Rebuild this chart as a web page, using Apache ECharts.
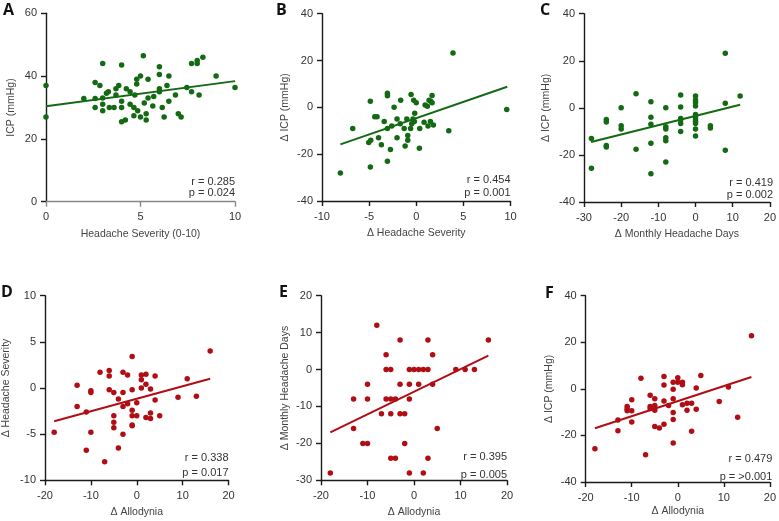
<!DOCTYPE html>
<html>
<head>
<meta charset="utf-8">
<script src="https://cdn.jsdelivr.net/npm/echarts@6/dist/echarts.min.js"></script>
<style>
  html, body { margin: 0; padding: 0; background: #fff; }
  #main { width: 779px; height: 521px; }
</style>
</head>
<body>
<div id="main"></div>
<script>
// A: headache severity vs ICP
var aX = [0, 0, 2, 2.6, 2.6, 2.6, 2.85, 3, 3, 3, 3, 3.2, 3.3, 3.35, 3.6, 3.7, 3.7, 3.85, 4, 4, 4, 4, 4.2, 4.25, 4.45, 4.45, 4.65, 4.65, 4.7, 4.8, 4.8, 4.85, 5, 5, 5.15, 5.2, 5.3, 5.3, 5.4, 5.4, 5.7, 5.65, 6, 6, 6, 6, 6.15, 6.25, 6.4, 6.5, 6.5, 6.85, 7, 7.15, 7.45, 7.7, 7.7, 8, 8, 8.1, 8.3, 9, 10];
var aY = [37, 27, 32.9, 38, 32.9, 30, 37, 44, 33, 31, 29, 34.5, 35, 30, 30, 34, 36, 37, 43.5, 32, 30, 25.5, 26, 36, 35, 31, 30, 27.4, 34, 39, 37.5, 29, 40, 27, 46.5, 31.4, 28, 26, 39, 33, 33.5, 30.5, 43, 40.5, 36, 35, 30, 27, 37, 40, 32, 34, 28, 27, 36.4, 44, 35, 45, 44, 34, 46, 40, 36.4];
var aFitX = [0, 10];
var aFitY = [30.4, 38.4];

// B: Δ headache severity vs Δ ICP
var bX = [-8.05, -6.74, -4.87, -4.87, -5.04, -4.83, -4.4, -4.16, -4, -3.7, -3.4, -3.06, -3.06, -3.06, -3.06, -2.74, -2.6, -2.35, -2.04, -2.04, -1.65, -1.7, -1.28, -1.18, -1, -0.9, -0.9, -0.55, -0.6, -0.48, -0.34, -0.27, -0.16, -0.2, 0, 0.33, 0.37, 0.83, 0.94, 1.18, 1.36, 1.25, 1.54, 1.5, 1.68, 1.68, 1.82, 3.45, 3.9, 9.6];
var bY = [-28, -9, 2.6, -25.5, -15, -14.1, -4, -4, -13, -16, -6, 6, 5, -9, -23, -18, -8, 0, -5, -13, 3, -7, -9, -16.5, -5, -12, -14, 5.5, -9, -7, -5, 3, -2.5, -6, 2, -17.5, -9, -6.4, 1, 0.5, 3, -8, 2.6, -6, 5.1, 2, -7.5, -10, 23.2, -0.9];
var bFitX = [-8.05, 9.65];
var bFitY = [-15.8, 8.8];

// C: Δ monthly headache days vs Δ ICP
var cX = [-28, -28, -24, -24, -24, -24, -20, -20, -20, -16, -16, -12, -12, -12, -12, -12, -8, -8, -8, -8, -8, -8, -4, -4, -4, -4, -4, -4, 0, 0, 0, 0, 0, 0, 0, 0, 0, 0, 0, 4, 4, 8, 8, 8, 12];
var cY = [-13, -25.7, -5, -6, -16, -16.6, 0, -7.6, -9, 6, -17.6, 2.6, -4, -7, -15, -28, 0, -8, -9, -12.7, -14, -23, 5.5, 0.4, -4.5, -5.2, -6.6, -10, 5, 3.3, 2.3, 0.8, -2.8, -3.8, -4.7, -5.7, -6.7, -9, -12, -7.6, -8.6, 23.2, 2, -18, 5];
var cFitX = [-28.1, 12];
var cFitY = [-14.5, 1.3];

// D: Δ allodynia vs Δ headache severity
var dX = [-18, -13, -13, -11, -11, -10, -10, -10, -8, -7, -6, -6, -6, -5, -5, -5, -5, -4, -4, -3, -3, -3, -3, -2, -2, -1, -1, -1, -1, -1, -1, 0, 0, 1, 1, 1, 2, 2, 2, 3, 3, 3, 4, 4, 5, 9, 11, 13, 16];
var dY = [-4.8, 0.3, -2, -2.6, -6.75, -0.3, -0.5, -4.8, 1.7, -8, 1.9, 1.3, -0.2, -0.5, -3, -3.7, -4.3, -1.2, -6.5, 1.7, -0.5, -2, -5, 1.4, -1.7, 3.4, -0.2, -2.4, -3, -4, -4.1, -1.6, -3, 1.4, 0.9, 0, 1.5, 0.4, -3.2, -0.1, -2.7, -3.3, 1.3, -1.3, -3, -1, 1, -0.9, 4];
var dFitX = [-18, 16];
var dFitY = [-3.6, 1.0];

// E: Δ allodynia vs Δ monthly headache days
var eX = [-18, -13, -13, -11, -10, -10, -10, -8, -7, -6, -6, -6, -5, -5, -5, -5, -4, -4, -3, -3, -3, -2, -2, -1, -1, -1, -1, 0, 1, 1, 2, 2, 3, 3, 3, 4, 4, 5, 9, 11, 13, 16];
var eY = [-28, -8, -16, -20, -20, -4, -8, 12, -12, 4, 0, -8, 0, -8, -12, -24, -8, -24, 8, -4, -12, -12, -20, -4, -8, 0, -28, 0, 0, -4, 0, -28, 8, 0, -24, 4, -4, -16, 0, 0, 0, 8];
var eFitX = [-18, 16];
var eFitY = [-17, 3.75];

// F: Δ allodynia vs Δ ICP
var fX = [-18, -13, -13, -11, -11, -11, -10, -10, -10, -8, -7, -6, -6, -6, -5, -5, -5, -5, -4, -3, -3, -3, -3, -2, -1, -1, -1, -1, -1, -1, 0, 0, 1, 1, 1, 2, 2, 3, 3, 4, 4, 5, 9, 11, 13, 16];
var fY = [-25.7, -13.4, -18, -7.6, -8.6, -9.4, -4.7, -9.4, -14.2, 4.6, -28.3, -2.8, -7.6, -8.4, -4.2, -7.2, -9.2, -16.2, -16.8, 5.3, 1.6, -5.2, -15.2, -7.2, 2.8, -0.2, -4.2, -10.2, -13.2, -23.2, 4.8, 2.8, 2.8, 1.8, -6.8, -6.2, -9.2, -6.2, -18.2, 0.4, -8.8, 5.7, -5.4, 0.8, -12.2, 22.8];
var fFitX = [-18, 16];
var fFitY = [-16.9, 5.1];

var green = '#136a13';
var red = '#b00e14';

function zip(xs, ys) {
    var out = [];
    for (var i = 0; i < xs.length; i++) out.push([xs[i], ys[i]]);
    return out;
}

// panel layout (pixels)
var panels = [
    {letter: 'A', left: 46, top: 13.3, w: 189, h: 188.4, xMin: 0, xMax: 10, xInt: 5, yMin: 0, yMax: 60, yInt: 20,
        xName: 'Headache Severity (0-10)', yName: 'ICP (mmHg)', xs: aX, ys: aY, fx: aFitX, fy: aFitY, color: green,
        r: 'r = 0.285', p: 'p = 0.024', lx: 3, ly: 2, yGap: 29, xGap: 27, xLine: '#888'},
    {letter: 'B', left: 322, top: 13.7, w: 188.5, h: 187.3, xMin: -10, xMax: 10, xInt: 5, yMin: -40, yMax: 40, yInt: 20,
        xName: 'Δ Headache Severity', yName: 'Δ ICP (mmHg)', xs: bX, ys: bY, fx: bFitX, fy: bFitY, color: green,
        r: 'r = 0.454', p: 'p = 0.001', lx: 276, ly: 2, yGap: 31, xGap: 27},
    {letter: 'C', left: 584, top: 13.7, w: 189, h: 188.3, xMin: -30, xMax: 20, xInt: 10, yMin: -40, yMax: 40, yInt: 20,
        xName: 'Δ Monthly Headache Days', yName: 'Δ ICP (mmHg)', xs: cX, ys: cY, fx: cFitX, fy: cFitY, color: green,
        r: 'r = 0.419', p: 'p = 0.002', lx: 540, ly: 2, yGap: 32, xGap: 27},
    {letter: 'D', left: 43, top: 295.7, w: 185.5, h: 184.6, xMin: -20, xMax: 20, xInt: 10, yMin: -10, yMax: 10, yInt: 5,
        xName: 'Δ Allodynia', yName: 'Δ Headache Severity', xs: dX, ys: dY, fx: dFitX, fy: dFitY, color: red,
        r: 'r = 0.338', p: 'p = 0.017', lx: 1, ly: 284, yGap: 33, xGap: 26},
    {letter: 'E', left: 321, top: 295.7, w: 186, h: 184.6, xMin: -20, xMax: 20, xInt: 10, yMin: -30, yMax: 20, yInt: 10,
        xName: 'Δ Allodynia', yName: 'Δ Monthly Headache Days', xs: eX, ys: eY, fx: eFitX, fy: eFitY, color: red,
        r: 'r = 0.395', p: 'p = 0.005', lx: 279, ly: 284, yGap: 30, xGap: 26},
    {letter: 'F', left: 585.7, top: 295.7, w: 186.6, h: 186.3, xMin: -20, xMax: 20, xInt: 10, yMin: -40, yMax: 40, yInt: 20,
        xName: 'Δ Allodynia', yName: 'Δ ICP (mmHg)', xs: fX, ys: fY, fx: fFitX, fy: fFitY, color: red,
        r: 'r = 0.479', p: 'p = >0.001', lx: 545, ly: 285, yGap: 31, xGap: 24}
];

var statY = [[181.7, 192.7], [180, 193], [182.7, 195], [457.7, 472.7], [457, 475], [459, 477.3]];

var grid = [], xAxis = [], yAxis = [], series = [], graphic = [];
var labelStyle = {color: '#333', fontSize: 11, fontFamily: 'Liberation Sans, Arial, sans-serif'};
var nameStyle = {color: '#444', fontSize: 10.5, fontFamily: 'Liberation Sans, Arial, sans-serif'};

panels.forEach(function (p, i) {
    var yLine = {color: '#1a1a1a', width: 1.4};
    var xLine = {color: p.xLine || '#1a1a1a', width: 1.4};
    grid.push({left: p.left, top: p.top, width: p.w, height: p.h, containLabel: false});
    xAxis.push({
        gridIndex: i, type: 'value', min: p.xMin, max: p.xMax, interval: p.xInt,
        name: p.xName, nameLocation: 'middle', nameGap: p.xGap, nameTextStyle: nameStyle,
        axisLine: {onZero: false, lineStyle: xLine},
        axisTick: {show: true, length: 5, lineStyle: xLine},
        axisLabel: Object.assign({margin: 10}, labelStyle),
        splitLine: {show: false}
    });
    yAxis.push({
        gridIndex: i, type: 'value', min: p.yMin, max: p.yMax, interval: p.yInt,
        name: p.yName, nameLocation: 'middle', nameGap: p.yGap, nameRotate: 90, nameTextStyle: nameStyle,
        axisLine: {onZero: false, lineStyle: yLine},
        axisTick: {show: true, length: 5, lineStyle: yLine},
        axisLabel: Object.assign({margin: 9}, labelStyle),
        splitLine: {show: false}
    });
    series.push({
        type: 'scatter', xAxisIndex: i, yAxisIndex: i,
        data: zip(p.xs, p.ys), symbolSize: 5.5,
        itemStyle: {color: p.color, opacity: 1}, silent: true
    });
    series.push({
        type: 'line', xAxisIndex: i, yAxisIndex: i,
        data: zip(p.fx, p.fy), symbol: 'none',
        lineStyle: {color: p.color, width: 2}, silent: true, z: 3
    });
    graphic.push({
        type: 'text', left: p.lx, top: p.ly,
        style: {text: p.letter, font: 'bold 16px "Open Sans", "DejaVu Sans", sans-serif', fill: '#111'}
    });
    var right = p.left + p.w;
    graphic.push({
        type: 'text', x: right, y: statY[i][0],
        style: {text: p.r, textAlign: 'right', textVerticalAlign: 'middle',
            font: '11px "Liberation Sans", Arial, sans-serif', fill: '#333'}
    });
    graphic.push({
        type: 'text', x: right, y: statY[i][1],
        style: {text: p.p, textAlign: 'right', textVerticalAlign: 'middle',
            font: '11px "Liberation Sans", Arial, sans-serif', fill: '#333'}
    });
});

var chart = echarts.init(document.getElementById('main'));
chart.setOption({
    animation: false,
    backgroundColor: '#fff',
    grid: grid,
    xAxis: xAxis,
    yAxis: yAxis,
    series: series,
    graphic: graphic
});
</script>
</body>
</html>
